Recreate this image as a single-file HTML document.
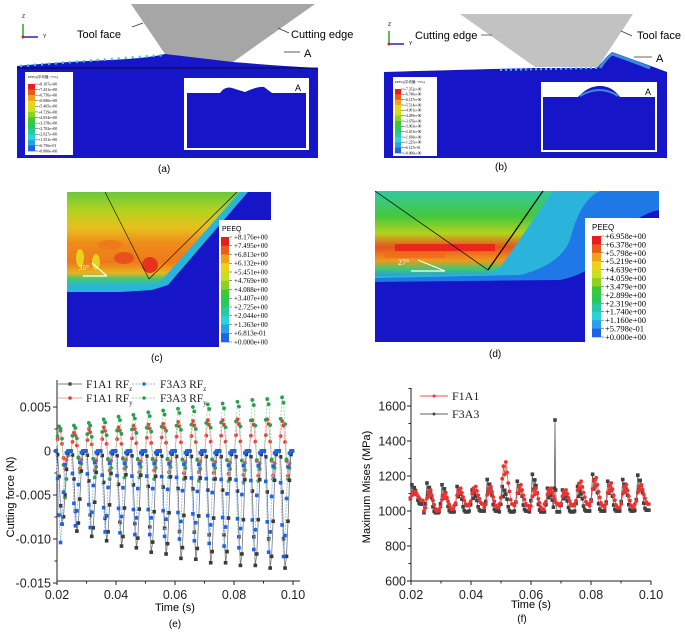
<!DOCTYPE html>
<html><head><meta charset="utf-8"><style>
html,body{margin:0;padding:0;background:#fff;}
svg{display:block;}
text{font-family:"Liberation Sans",sans-serif;}
.serif{font-family:"Liberation Serif",serif;}
</style></head><body>
<svg id="fig" width="685" height="634" viewBox="0 0 685 634" xmlns="http://www.w3.org/2000/svg">
<defs>
<linearGradient id="gc" x1="0" y1="0" x2="0" y2="1">
<stop offset="0" stop-color="#6cc83c"/><stop offset="0.2" stop-color="#b4d21e"/><stop offset="0.38" stop-color="#e8c01e"/><stop offset="0.55" stop-color="#ee8a1a"/><stop offset="0.75" stop-color="#ee7a1a"/><stop offset="0.86" stop-color="#e8b41e"/><stop offset="0.93" stop-color="#3cc878"/><stop offset="1" stop-color="#2ab4dc"/>
</linearGradient>
<linearGradient id="gd" x1="0" y1="0" x2="0" y2="1">
<stop offset="0" stop-color="#32c8a0"/><stop offset="0.3" stop-color="#46c83c"/><stop offset="0.5" stop-color="#b4d21e"/><stop offset="0.66" stop-color="#e8501e"/><stop offset="0.82" stop-color="#ee9a1a"/><stop offset="0.92" stop-color="#3cc878"/><stop offset="1" stop-color="#2a9ce0"/>
</linearGradient>
</defs>

<!-- Panel (a) -->
<g>
<rect x="17" y="68" width="301" height="90" fill="#1616c8"/>
<path d="M17 68 L17 66 Q60 62 110 60 Q150 58 165 54 Q200 51 233 62 Q280 66 318 68 Z" fill="#1616c8"/>
<path d="M20 66 L165 55" stroke="#40c0f0" stroke-width="2.5" stroke-dasharray="2 5"/>
<line x1="17" y1="68" x2="318" y2="68" stroke="#000" stroke-width="0.8"/>
<polygon points="131,4 315,4 233,62 165,54" fill="#a6a6a6"/>
<g>
<line x1="23" y1="37" x2="23" y2="24" stroke="#2a2" stroke-width="1.5"/><line x1="23" y1="37" x2="38" y2="37" stroke="#22c" stroke-width="1.5"/><circle cx="23" cy="37" r="1.5" fill="#c22"/>
<text x="22" y="18" font-size="5">Z</text><text x="43" y="38" font-size="5">Y</text></g>
<text x="77" y="38" font-size="11">Tool face</text>
<line x1="132" y1="27" x2="143" y2="23" stroke="#333" stroke-width="0.7"/>
<text x="291" y="38" font-size="11">Cutting edge</text>
<line x1="278" y1="28" x2="289" y2="33" stroke="#333" stroke-width="0.7"/>
<text x="304" y="57" font-size="11">A</text>
<line x1="284" y1="52" x2="300" y2="52" stroke="#333" stroke-width="0.8"/>
<g>
<rect x="25" y="72" width="48" height="83" fill="#fff"/>
<text x="28" y="78" font-size="3.5" class="serif">PEEQ(平均值: 75%)</text>
</g>
<g>
<rect x="184" y="78" width="125" height="72" fill="#fff"/>
<path d="M187 93 L220 93 Q225 86 232 88 L245 92 Q258 86 264 87 L272 93 L306 93 L306 148 L187 148 Z" fill="#1616c8"/>
<text x="295" y="91" font-size="9">A</text>
</g>
<text x="158" y="172" font-size="10">(a)</text>
</g>

<!-- Panel (b) -->
<g>
<rect x="384" y="74" width="283" height="84" fill="#1616c8"/>
<path d="M384 74 L384 72 Q450 70 535 68 L597 68 Q605 58 612 52 Q640 62 667 72 L667 76 Z" fill="#1616c8"/>
<path d="M600 68 Q606 58 612 54 Q630 60 650 68" fill="none" stroke="#3a8ce0" stroke-width="3"/>
<path d="M500 70 L598 68" stroke="#40c0e0" stroke-width="2" stroke-dasharray="2 3"/>
<polygon points="460,14 633,14 598,67 535,67" fill="#c2c2c2"/>
<g>
<line x1="389" y1="44" x2="389" y2="31" stroke="#2a2" stroke-width="1.5"/><line x1="389" y1="44" x2="404" y2="44" stroke="#22c" stroke-width="1.5"/><circle cx="389" cy="44" r="1.5" fill="#c22"/>
<text x="388" y="26" font-size="5">Z</text><text x="409" y="45" font-size="5">Y</text></g>
<text x="415" y="39" font-size="11">Cutting edge</text>
<line x1="481" y1="35" x2="492" y2="35" stroke="#333" stroke-width="0.7"/>
<text x="637" y="39" font-size="11">Tool face</text>
<line x1="621" y1="31" x2="632" y2="36" stroke="#333" stroke-width="0.7"/>
<text x="656" y="62" font-size="11">A</text>
<line x1="634" y1="57" x2="652" y2="57" stroke="#333" stroke-width="0.8"/>
<g>
<rect x="393" y="77" width="44" height="79" fill="#fff"/>
<text x="395" y="83" font-size="3.5" class="serif">PEEQ(平均值: 75%)</text>
</g>
<g>
<rect x="541" y="82" width="116" height="70" fill="#fff"/>
<path d="M543 97 L578 97 Q588 86 600 86 Q612 86 620 97 L655 97 L655 150 L543 150 Z" fill="#1616c8"/>
<path d="M580 96 Q600 84 618 96" fill="none" stroke="#3a8ce0" stroke-width="2"/>
<text x="645" y="95" font-size="9">A</text>
</g>
<text x="495" y="170" font-size="10">(b)</text>
</g>

<!-- Panel (c) -->
<g>
<rect x="67" y="192" width="152" height="155" fill="#1616c8"/>
<rect x="219" y="192" width="52" height="28" fill="#1616c8"/>
<polygon points="67,192 248,192 168,285 152,290 120,292 67,292" fill="#2ab4dc"/>
<polygon points="67,192 240,192 160,282 150,285 120,286 67,286" fill="url(#gc)"/>
<ellipse cx="150" cy="265" rx="8" ry="8" fill="#e8321e"/>
<ellipse cx="124" cy="258" rx="10" ry="6" fill="#e8501e"/>
<ellipse cx="80" cy="258" rx="4" ry="9" fill="#e8d21e"/>
<ellipse cx="96" cy="262" rx="4" ry="8" fill="#e8d21e"/>
<ellipse cx="110" cy="245" rx="12" ry="5" fill="#ee7a1a"/>
<line x1="105" y1="192" x2="149" y2="279" stroke="#000" stroke-width="0.6"/>
<line x1="149" y1="279" x2="237" y2="192" stroke="#000" stroke-width="0.6"/>
<line x1="83" y1="276" x2="107" y2="276" stroke="#fff" stroke-width="1.2"/>
<line x1="92" y1="263" x2="107" y2="276" stroke="#fff" stroke-width="1.2"/>
<text x="79" y="270" font-size="7" fill="#fff" class="serif">35°</text>
<g id="legc"><rect x="219" y="220" width="52" height="127" fill="#fff"/><text x="222" y="231" font-size="7">PEEQ</text></g>
<text x="151" y="361" font-size="10">(c)</text>
</g>

<!-- Panel (d) -->
<g>
<rect x="375" y="191" width="284" height="151" fill="#1616c8"/>
<path d="M375 191 L659 191 L659 210 Q630 215 600 260 Q585 275 560 280 L375 282 Z" fill="#1e78e6"/>
<path d="M375 191 L600 191 Q580 200 570 240 Q560 265 520 275 L375 278 Z" fill="#2ab4dc"/>
<path d="M375 191 L553 191 L500 268 L488 274 L375 276 Z" fill="url(#gd)"/>
<rect x="395" y="244" width="100" height="7" fill="#e81e1e" opacity="0.85"/>
<rect x="385" y="252" width="60" height="6" fill="#ee6a1a" opacity="0.7"/>
<line x1="375" y1="191" x2="488" y2="270" stroke="#000" stroke-width="0.7"/>
<line x1="488" y1="270" x2="543" y2="191" stroke="#000" stroke-width="1.2"/>
<line x1="411" y1="271" x2="445" y2="271" stroke="#fff" stroke-width="1.2"/>
<line x1="418" y1="260" x2="445" y2="271" stroke="#fff" stroke-width="1.2"/>
<text x="398" y="265" font-size="8" fill="#fff" class="serif">27°</text>
<g id="legd"><rect x="585" y="218" width="76" height="124" fill="#fff"/><text x="592" y="230" font-size="8">PEEQ</text></g>
<text x="489" y="357" font-size="10">(d)</text>
</g>

<!-- Chart (e) -->
<g id="chartE">
<text x="175" y="611" font-size="11" text-anchor="middle">Time (s)</text>
<text x="175" y="627" font-size="10" text-anchor="middle">(e)</text>
<text x="0" y="0" font-size="11" text-anchor="middle" transform="translate(14,497) rotate(-90)">Cutting force (N)</text>
</g>
<!-- Chart (f) -->
<g id="chartF">
<text x="531" y="608" font-size="11" text-anchor="middle">Time (s)</text>
<text x="522" y="622" font-size="10" text-anchor="middle">(f)</text>
<text x="0" y="0" font-size="11" text-anchor="middle" transform="translate(370,487) rotate(-90)">Maximum Mises (MPa)</text>
</g>
</svg>
<script>
// ---------- PEEQ legends ----------
const peeqColors = ['#e81e1e','#ee5a1a','#f0a01a','#ecd21a','#c8e01e','#8cd21e','#3cc83c','#28c85a','#28c8a0','#2ad2dc','#2aa0e6','#1e64e6','#1414d2'];
const peeqC = ['+8.176e+00','+7.495e+00','+6.813e+00','+6.132e+00','+5.451e+00','+4.769e+00','+4.088e+00','+3.407e+00','+2.725e+00','+2.044e+00','+1.363e+00','+6.813e-01','+0.000e+00'];
const peeqD = ['+6.958e+00','+6.378e+00','+5.798e+00','+5.219e+00','+4.639e+00','+4.059e+00','+3.479e+00','+2.899e+00','+2.319e+00','+1.740e+00','+1.160e+00','+5.798e-01','+0.000e+00'];
const peeqA = ['+8.107e+00','+7.431e+00','+6.756e+00','+6.080e+00','+5.405e+00','+4.729e+00','+4.054e+00','+3.378e+00','+2.702e+00','+2.027e+00','+1.351e+00','+6.756e-01','+0.000e+00'];
const peeqB = ['+7.352e+00','+6.740e+00','+6.127e+00','+5.514e+00','+4.901e+00','+4.289e+00','+3.676e+00','+3.063e+00','+2.451e+00','+1.838e+00','+1.225e+00','+6.127e-01','+0.000e+00'];
const NS='http://www.w3.org/2000/svg';
function mk(tag, attrs, parent){const e=document.createElementNS(NS,tag);for(const k in attrs)e.setAttribute(k,attrs[k]);parent.appendChild(e);return e;}
function colorbar(parentId, labels, x, y0, y1, bw, lx, fs){
  const p=document.getElementById(parentId)||document.getElementById('fig');
  const n=labels.length-1, h=(y1-y0)/n;
  for(let i=0;i<n;i++){const r=mk('rect',{x:x,y:y0+i*h,width:bw,height:h+0.3,fill:peeqColors[i]},p);
    
    }
  labels.forEach((l,i)=>{const t=mk('text',{x:lx,y:y0+i*h+fs*0.35,'font-size':fs,class:'serif'},p);t.textContent=l;
    
    
    mk('line',{x1:x+bw,x2:x+bw+3,y1:y0+i*h,y2:y0+i*h,stroke:'#333','stroke-width':0.5},p);});
}
colorbar('legc',peeqC,221,237,342,8,234,7);
colorbar('legd',peeqD,592,236,337,9,605,8.5);
colorbar('fig',peeqA,28,84,151,7,38,4);
colorbar('fig',peeqB,395,89,153,6,404,3.6);

// ---------- Chart (e) data ----------
const eCycleStart = 0.0217, ePeriod = 0.00504;
const f1RFzMin = [-0.0083,-0.0091,-0.0097,-0.0102,-0.0108,-0.0110,-0.0115,-0.0117,-0.0122,-0.0123,-0.0127,-0.0127,-0.0130,-0.0130,-0.0133,-0.0133];
const f3RFzMin = [-0.0104,-0.0085,-0.0087,-0.0092,-0.0093,-0.0095,-0.0095,-0.0097,-0.0100,-0.0102,-0.0105,-0.0108,-0.0110,-0.0112,-0.0115,-0.0120];
const f1RFyMax = [0.0027,0.0021,0.0025,0.0027,0.0027,0.0029,0.0030,0.0031,0.0033,0.0034,0.0035,0.0035,0.0036,0.0035,0.0036,0.0034];
const f1RFyMin = [-0.0020,-0.0020,-0.0022,-0.0022,-0.0020,-0.0024,-0.0022,-0.0024,-0.0025,-0.0024,-0.0025,-0.0026,-0.0027,-0.0028,-0.0028,-0.0028];
const f3RFyMax = [0.0028,0.0029,0.0032,0.0036,0.0039,0.0041,0.0044,0.0046,0.0048,0.0050,0.0053,0.0054,0.0056,0.0058,0.0059,0.0061];
const f3RFyMin = [-0.0053,-0.0024,-0.0030,-0.0032,-0.0030,-0.0030,-0.0032,-0.0030,-0.0032,-0.0034,-0.0032,-0.0034,-0.0036,-0.0034,-0.0032,-0.0032];
const eOffsets = [-0.0020,-0.0015,-0.0010,-0.0005,0,0.0005,0.0010,0.0015,0.0020,0.0025];
const shapeZ1 = [0,-0.05,-0.35,-0.75,-1,-0.9,-0.6,-0.25,-0.03,0];
const shapeZ3 = [0,-0.3,-0.7,-1,-0.8,-0.45,-0.15,-0.02,0,0];
const shapeY1 = [0,0.5,1,0.85,0.3,-0.4,-1,-0.5,-0.1,0];
const shapeY3 = [0,0.6,1,0.9,0.5,-0.3,-1,-0.6,-0.1,0];
const eXTicks=[0.02,0.04,0.06,0.08,0.10], eXLabels=['0.02','0.04','0.06','0.08','0.10'];
const eYTicks=[0.005,0,-0.005,-0.010,-0.015], eYLabels=['0.005','0','-0.005','-0.010','-0.015'];
const ex=t=>57+(t-0.02)/0.08*236;
const ey=v=>451-v/0.005*44;

// ---------- Chart (f) data ----------
const fCycleStart = 0.0215, fPeriod = 0.00502;
const f1Peak = [1110,1120,1100,1130,1140,1140,1280,1150,1130,1130,1120,1170,1190,1160,1150,1150];
const f1Base = [1060,1000,1010,1030,1040,1020,1040,1030,1010,1040,1030,1040,1030,1020,1020,1040];
const f3Peak = [1150,1160,1150,1140,1120,1180,1140,1170,1210,1130,1120,1140,1210,1170,1180,1205];
const f3Base = [1040,990,995,995,1000,1000,995,1000,995,995,995,1000,1000,1000,1000,1005];
const spikeT = [0.0678,0.068,0.0682], spikeV = [1130,1520,1120];
const fOffsets = [-0.0022,-0.0017,-0.0012,-0.0008,-0.0004,0,0.0004,0.0008,0.0012,0.0016,0.002,0.0025];
const shapeF1 = [0,0.15,0.6,0.9,0.7,1,0.75,0.5,0.3,0.1,0,0];
const shapeF3 = [0,0.3,1,0.6,0.85,0.7,0.5,0.2,0.05,0,0,0];
const fXTicks=[0.02,0.04,0.06,0.08,0.10], fXLabels=['0.02','0.04','0.06','0.08','0.10'];
const fYTicks=[600,800,1000,1200,1400,1600], fYLabels=['600','800','1000','1200','1400','1600'];
const fx=t=>411+(t-0.02)/0.08*240;
const fy=v=>581-(v-600)/200*35;

function seriesE(mins, maxs, shape){
  const pts=[];
  for(let k=0;k<mins.length;k++){
    const c=eCycleStart+k*ePeriod;
    eOffsets.forEach((o,j)=>{const s=shape[j];const v=s>=0?(maxs?s*maxs[k]:0):(-s)*mins[k];pts.push([c+o,v]);});
  }
  return pts;
}
function seriesF(peak, base, shape, spike){
  const pts=[];
  for(let k=0;k<peak.length;k++){
    const c=fCycleStart+k*fPeriod;
    fOffsets.forEach((o,j)=>{
      const t=c+o;
      if(spike && t>spikeT[0]-0.0003 && t<spikeT[2]+0.0003) return;
      pts.push([t, base[k]+shape[j]*(peak[k]-base[k])]);
    });
    if(spike && c<spikeT[1] && c+fPeriod>spikeT[1]){spikeT.forEach((t,i)=>pts.push([t,spikeV[i]]));}
  }
  pts.sort((a,b)=>a[0]-b[0]);
  return pts.filter(p=>p[0]>=0.0195 && p[0]<=0.0998);
}

function drawAxes(g, sx, sy, x0, x1, yTop, yBot, xT, xL, yT, yL, minorX, minorY, yLabelX){
  mk('line',{x1:x0,x2:x1,y1:yBot,y2:yBot,stroke:'#222','stroke-width':1},g);
  mk('line',{x1:x0,x2:x0,y1:yTop,y2:yBot,stroke:'#222','stroke-width':1},g);
  xT.forEach((t,i)=>{mk('line',{x1:sx(t),x2:sx(t),y1:yBot,y2:yBot+4,stroke:'#222'},g);
    const tx=mk('text',{x:sx(t),y:yBot+18,'font-size':12.5,'text-anchor':'middle',fill:'#222'},g);tx.textContent=xL[i];
    
    });
  minorX.forEach(t=>mk('line',{x1:sx(t),x2:sx(t),y1:yBot,y2:yBot+2.5,stroke:'#222'},g));
  yT.forEach((v,i)=>{mk('line',{x1:x0-4,x2:x0,y1:sy(v),y2:sy(v),stroke:'#222'},g);
    const tx=mk('text',{x:yLabelX,y:sy(v)+4.5,'font-size':12.5,'text-anchor':'end',fill:'#222'},g);tx.textContent=yL[i];
    
    });
  minorY.forEach(v=>mk('line',{x1:x0-2.5,x2:x0,y1:sy(v),y2:sy(v),stroke:'#222'},g));
}
function drawSeries(g, pts, sx, sy, color, lineColor, dash, marker, name){
  const pl=mk('polyline',{points:pts.map(p=>sx(p[0]).toFixed(1)+','+sy(p[1]).toFixed(1)).join(' '),fill:'none',stroke:lineColor,'stroke-width':0.8,'stroke-dasharray':dash},g);
  
  
  pts.forEach(p=>{
    const X=sx(p[0]),Y=sy(p[1]);
    const m = marker==='sq'?mk('rect',{x:X-1.8,y:Y-1.8,width:3.6,height:3.6,fill:color},g):mk('circle',{cx:X,cy:Y,r:1.9,fill:color},g);
    
    
  });
}

// draw chart e
const gE=document.getElementById('chartE');
drawAxes(gE,ex,ey,57,300,380,581,eXTicks,eXLabels,eYTicks,eYLabels,[0.03,0.05,0.07,0.09],[0.0025,-0.0025,-0.0075,-0.0125],51);
drawSeries(gE,seriesE(f1RFyMin,f1RFyMax,shapeY1),ex,ey,'#e83a3a','#f0a0a0','','ci','f1a1-rfy');
drawSeries(gE,seriesE(f3RFyMin,f3RFyMax,shapeY3),ex,ey,'#28a050','#90d0a0','2 1.5','ci','f3a3-rfy');
drawSeries(gE,seriesE(f1RFzMin,null,shapeZ1),ex,ey,'#3a3a3a','#777','','sq','f1a1-rfz');
drawSeries(gE,seriesE(f3RFzMin,null,shapeZ3),ex,ey,'#1e64e0','#8cb4f0','2 1','sq','f3a3-rfz');
// legend e
const legE=[['F1A1 RF','z',58,384,'#404040','#808080','','sq'],['F3A3 RF','z',132,384,'#1e64dc','#8cb4f0','2 1.5','sq'],['F1A1 RF','y',58,398,'#e83a3a','#f0a0a0','','ci'],['F3A3 RF','y',132,398,'#28a050','#90d0a0','2 1.5','ci']];
legE.forEach(l=>{
  const g=mk('g',{},gE);
  
  
  mk('line',{x1:l[2],x2:l[2]+24,y1:l[3],y2:l[3],stroke:l[5],'stroke-dasharray':l[6]},g);
  if(l[7]==='sq')mk('rect',{x:l[2]+10.4,y:l[3]-1.6,width:3.2,height:3.2,fill:l[4]},g);else mk('circle',{cx:l[2]+12,cy:l[3],r:1.8,fill:l[4]},g);
  const t=mk('text',{x:l[2]+28,y:l[3]+4,'font-size':11.5,class:'serif',fill:'#222'},g);
  t.textContent=l[0];
  const s=mk('tspan',{'font-size':7,dy:3},t);s.textContent=l[1];
});

// draw chart f
const gF=document.getElementById('chartF');
drawAxes(gF,fx,fy,411,651,388,581,fXTicks,fXLabels,fYTicks,fYLabels,[0.03,0.05,0.07,0.09],[700,900,1100,1300,1500,1700],406);
drawSeries(gF,seriesF(f3Peak,f3Base,shapeF3,true),fx,fy,'#404040','#606060','','sq','f3a3-mises');
drawSeries(gF,seriesF(f1Peak,f1Base,shapeF1,false),fx,fy,'#ee3030','#ee5050','','ci','f1a1-mises');
const legF=[['F1A1',396,'#ee3030','#ee5050'],['F3A3',414,'#404040','#606060']];
legF.forEach(l=>{
  const g=mk('g',{},gF);
  
  
  mk('line',{x1:420,x2:448,y1:l[1],y2:l[1],stroke:l[3]},g);
  mk('circle',{cx:434,cy:l[1],r:1.5,fill:l[2]},g);
  const t=mk('text',{x:452,y:l[1]+4,'font-size':12,class:'serif',fill:'#222'},g);t.textContent=l[0];
});
</script>
</body></html>
